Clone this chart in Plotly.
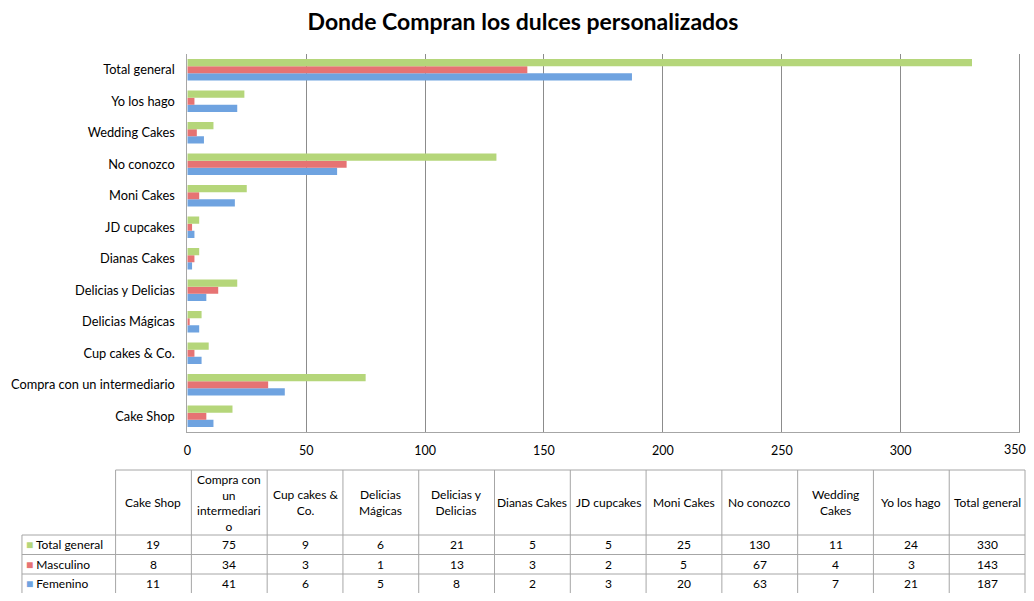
import plotly.graph_objects as go

# ---------------- data ----------------
categories = ["Cake Shop", "Compra con un intermediario", "Cup cakes & Co.",
              "Delicias Mágicas", "Delicias y Delicias", "Dianas Cakes",
              "JD cupcakes", "Moni Cakes", "No conozco", "Wedding Cakes",
              "Yo los hago", "Total general"]
header_labels = ["Cake Shop", "Compra con<br>un<br>intermediari<br>o", "Cup cakes &<br>Co.",
                 "Delicias<br>Mágicas", "Delicias y<br>Delicias", "Dianas Cakes",
                 "JD cupcakes", "Moni Cakes", "No conozco", "Wedding<br>Cakes",
                 "Yo los hago", "Total general"]
total_general = [19, 75, 9, 6, 21, 5, 5, 25, 130, 11, 24, 330]
masculino = [8, 34, 3, 1, 13, 3, 2, 5, 67, 4, 3, 143]
femenino = [11, 41, 6, 5, 8, 2, 3, 20, 63, 7, 21, 187]
series_names = ["Total general", "Masculino", "Femenino"]
series_values = [total_general, masculino, femenino]
series_colors = ["#B5D67A", "#E67373", "#6FA3E0"]
x_ticks = [0, 50, 100, 150, 200, 250, 300, 350]

# page body has an 8px margin on every side; size the figure so the page fits the window
OFF = 8
W, H = 1034 - 2 * OFF, 601 - 2 * OFF
FONT = "Lato"

def px(x):
    return (x - OFF) / W

def py(y):
    return 1 - (y - OFF) / H

fig = go.Figure()
# plotly draws first trace at the bottom of a group: Femenino, Masculino, Total
for name, vals, col in list(zip(series_names, series_values, series_colors))[::-1]:
    fig.add_trace(go.Bar(y=categories, x=vals, name=name, orientation="h",
                         marker=dict(color=col, line=dict(width=0)),
                         showlegend=False))

# ---------------- table (drawn from data) ----------------
line_col = "#A6A6A6"
tbl_left = 112
tbl_right = 1025
label_left = 18
n = len(categories)
col_w = (tbl_right - tbl_left) / n
head_top, head_bot = 470, 535
row_h = 19.5
shapes = []
annotations = []

def hline(x0, x1, y):
    shapes.append(dict(type="line", xref="paper", yref="paper", x0=px(x0), x1=px(x1),
                       y0=py(y), y1=py(y), line=dict(color=line_col, width=1)))

def vline(x, y0, y1):
    shapes.append(dict(type="line", xref="paper", yref="paper", x0=px(x), x1=px(x),
                       y0=py(y0), y1=py(y1), line=dict(color=line_col, width=1)))

hline(tbl_left, tbl_right, head_top)
hline(label_left, tbl_right, head_bot)
for r in range(1, len(series_names)):
    hline(label_left, tbl_right, head_bot + r * row_h)
for c in range(n + 1):
    vline(tbl_left + c * col_w, head_top, 601)
vline(label_left, head_bot, 601)

# gridline at the last tick (sits on the plot's right edge)
shapes.append(dict(type="line", xref="x", yref="y domain", x0=x_ticks[-1], x1=x_ticks[-1],
                   y0=0, y1=1, line=dict(color="#8C8C8C", width=1)))

for c, lab in enumerate(header_labels):
    annotations.append(dict(xref="paper", yref="paper", x=px(tbl_left + (c + 0.5) * col_w),
                            y=py((head_top + head_bot) / 2), text=lab, showarrow=False,
                            xanchor="center", yanchor="middle",
                            font=dict(family=FONT, size=12, color="#000000")))
for r, (name, vals, col) in enumerate(zip(series_names, series_values, series_colors)):
    yc = head_bot + (r + 0.5) * row_h
    annotations.append(dict(xref="paper", yref="paper", x=px(label_left + 2), y=py(yc),
                            text='<span style="color:%s">■</span> %s' % (col, name),
                            showarrow=False, xanchor="left", yanchor="middle",
                            font=dict(family=FONT, size=12, color="#000000")))
    for c, v in enumerate(vals):
        annotations.append(dict(xref="paper", yref="paper", x=px(tbl_left + (c + 0.5) * col_w),
                                y=py(yc), text=str(v), showarrow=False,
                                xanchor="center", yanchor="middle",
                                font=dict(family=FONT, size=12, color="#000000")))

# last x tick label sits at the right edge: draw it as a text nudged inside the page
tick_text = [str(v) for v in x_ticks[:-1]] + [""]
annotations.append(dict(xref="x", yref="paper", x=x_ticks[-1], y=py(449), text=str(x_ticks[-1]),
                        showarrow=False, xanchor="center", yanchor="middle", xshift=-5,
                        font=dict(family=FONT, size=12.5, color="#000000")))

fig.update_layout(
    width=W, height=H,
    margin=dict(l=0, r=0, t=0, b=0),
    paper_bgcolor="white", plot_bgcolor="white",
    barmode="group", bargap=0.31, bargroupgap=0,
    modebar=dict(bgcolor="rgba(0,0,0,0)", color="rgba(0,0,0,0)", activecolor="rgba(0,0,0,0)"),
    title=dict(text="<b>Donde Compran los dulces personalizados</b>", x=px(523), xanchor="center",
               y=py(22), yanchor="middle", font=dict(family=FONT, size=23, color="#000000")),
    xaxis=dict(domain=[px(184), px(1020)], range=[0, 350.2], tickvals=x_ticks, ticktext=tick_text,
               showgrid=True, gridcolor="#8C8C8C", gridwidth=1, zeroline=False,
               showline=True, linecolor="#A6A6A6", linewidth=1, ticks="",
               tickfont=dict(family=FONT, size=12.5, color="#000000"), ticklabelstandoff=7),
    yaxis=dict(domain=[py(432), py(54)], showgrid=False, zeroline=False,
               showline=True, linecolor="#A6A6A6", linewidth=1, ticks="",
               tickfont=dict(family=FONT, size=12.8, color="#000000"), ticklabelstandoff=9),
    shapes=shapes, annotations=annotations,
)

fig.write_html("out.html")
